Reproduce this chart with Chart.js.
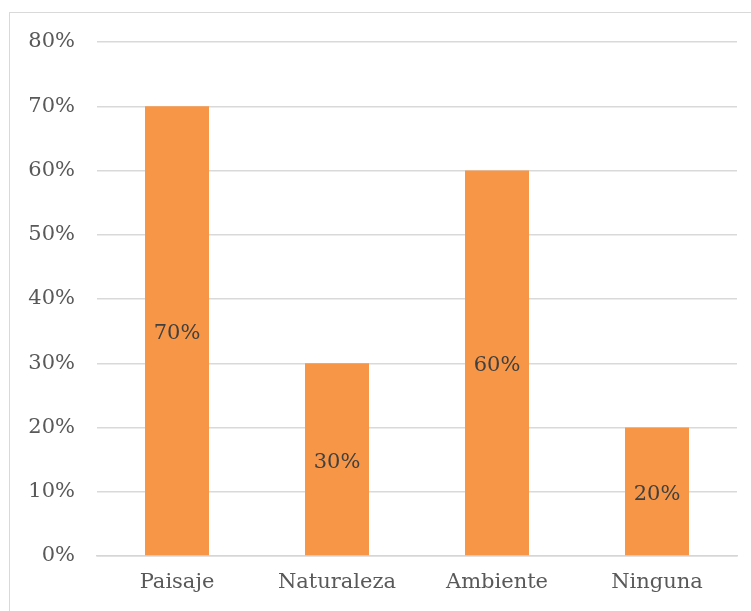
<!DOCTYPE html>
<html>
<head>
<meta charset="utf-8">
<script src="https://cdn.jsdelivr.net/npm/chart.js@4/dist/chart.umd.min.js"></script>
<style>
  html, body { margin: 0; padding: 0; background: #ffffff; }
  #wrap { width: 751px; height: 611px; }
</style>
</head>
<body>
<div id="wrap"><canvas id="grafico" width="751" height="611"></canvas></div>
<script>
// Datos del gráfico
const categorias = ['Paisaje', 'Naturaleza', 'Ambiente', 'Ninguna'];
const valores = [70, 30, 60, 20];
const ticksY = [0, 10, 20, 30, 40, 50, 60, 70, 80];

const fuente = 'DejaVu Serif';

// Fondo blanco y marco gris
const marcoPlugin = {
    id: 'marco',
    beforeDraw(chart) {
        const ctx = chart.ctx;
        ctx.save();
        ctx.fillStyle = '#ffffff';
        ctx.fillRect(0, 0, chart.width, chart.height);
        ctx.strokeStyle = '#d9d9d9';
        ctx.lineWidth = 1;
        ctx.strokeRect(9.5, 12.5, chart.width + 20, chart.height + 20);
        ctx.restore();
    }
};

// Etiquetas centradas dentro de cada barra
const etiquetasPlugin = {
    id: 'etiquetas',
    afterDatasetsDraw(chart) {
        const ctx = chart.ctx;
        const meta = chart.getDatasetMeta(0);
        ctx.save();
        ctx.font = '21px "' + fuente + '"';
        ctx.fillStyle = '#404040';
        ctx.textAlign = 'center';
        ctx.textBaseline = 'middle';
        meta.data.forEach((barra, i) => {
            const centro = barra.getCenterPoint();
            ctx.fillText(valores[i] + '%', centro.x, centro.y + 3);
        });
        ctx.restore();
    }
};

const canvas = document.getElementById('grafico');

new Chart(canvas, {
    type: 'bar',
    data: {
        labels: categorias,
        datasets: [{
            data: valores,
            backgroundColor: '#f79646',
            borderWidth: 0,
            barPercentage: 0.4,
            categoryPercentage: 1.0
        }]
    },
    options: {
        responsive: false,
        animation: false,
        layout: {
            padding: { left: 10, top: 42, right: 14, bottom: 8 }
        },
        plugins: {
            legend: { display: false },
            tooltip: { enabled: false }
        },
        scales: {
            x: {
                grid: { display: false, drawTicks: false },
                border: { display: true, color: '#d6d6d6', width: 1.5 },
                ticks: {
                    color: '#595959',
                    font: { family: fuente, size: 21 },
                    padding: 14,
                    maxRotation: 0
                },
                afterFit(scale) { scale.height = 47; }
            },
            y: {
                min: 0,
                max: 80,
                afterBuildTicks(scale) {
                    scale.ticks = ticksY.map(v => ({ value: v }));
                },
                grid: { color: '#d9d9d9', lineWidth: 1.5, drawTicks: false },
                border: { display: false },
                ticks: {
                    color: '#595959',
                    font: { family: fuente, size: 21 },
                    padding: 22,
                    callback: v => v + '%'
                },
                afterFit(scale) { scale.width = 87; }
            }
        }
    },
    plugins: [marcoPlugin, etiquetasPlugin]
});
</script>
</body>
</html>
